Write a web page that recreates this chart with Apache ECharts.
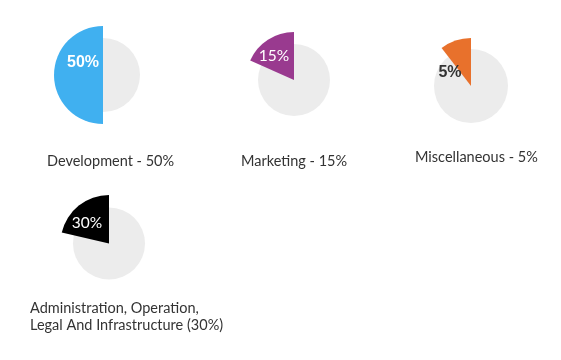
<!DOCTYPE html>
<html>
<head>
<meta charset="utf-8">
<script src="https://cdn.jsdelivr.net/npm/echarts@6/dist/echarts.min.js"></script>
<style>html,body{margin:0;padding:0;background:#fff;}#c{width:561px;height:360px;}</style>
</head>
<body>
<div id="c"></div>
<script>
// Data
var categories = ['Development - 50%', 'Marketing - 15%', 'Miscellaneous - 5%', 'Administration, Operation,\nLegal And Infrastructure (30%)'];
var labelValues = ['50%', '15%', '5%', '30%'];
// drawn sector share (percent of full circle)
var sectorShare = [50, 18.3, 10.5, 21.4];
var colors = ['#40b0f0', '#993a8f', '#e8712c', '#000000'];

// layout (positions / styles)
var centers = [[103, 75], [294, 80], [471, 86], [109, 243.5]];
var bgRadius = [37, 36, 37, 36];
var fgRadius = [49, 48, 48, 48.5];
var labelCenters = [[83, 63], [274, 56], [450, 72.5], [87, 222.5]];
var labelFonts = [
  {fontFamily: 'Liberation Sans', fontWeight: 'bold', fontSize: 16, color: '#ffffff'},
  {fontFamily: 'Lato', fontWeight: 'normal', fontSize: 15.5, color: '#ffffff'},
  {fontFamily: 'Liberation Sans', fontWeight: 'bold', fontSize: 16, color: '#333333'},
  {fontFamily: 'Lato', fontWeight: 'normal', fontSize: 15.5, color: '#ffffff'}
];
var captionPos = [[47, 153], [241, 153], [415, 149], [30, 300]];

var series = [];
var titles = [];
for (var i = 0; i < categories.length; i++) {
  series.push({
    type: 'pie', silent: true, center: centers[i], radius: [0, bgRadius[i]],
    label: {show: false}, labelLine: {show: false}, emphasis: {disabled: true},
    data: [{value: 1, itemStyle: {color: '#ececec'}}]
  });
  series.push({
    type: 'pie', silent: true, center: centers[i], radius: [0, fgRadius[i]],
    startAngle: 90, clockwise: false, emphasis: {disabled: true},
    label: {show: false}, labelLine: {show: false},
    data: [
      {value: sectorShare[i], name: categories[i], itemStyle: {color: colors[i]}},
      {value: 100 - sectorShare[i], itemStyle: {color: 'transparent'}}
    ]
  });
  titles.push({
    text: categories[i], left: captionPos[i][0], top: captionPos[i][1], padding: 0,
    textStyle: {fontFamily: 'Lato', fontWeight: 'normal', fontSize: 14.5, color: '#333333', lineHeight: 17}
  });
  var f = labelFonts[i];
  titles.push({
    text: labelValues[i], left: labelCenters[i][0], top: labelCenters[i][1], padding: 0,
    textAlign: 'center', textVerticalAlign: 'middle', z: 10,
    textStyle: {fontFamily: f.fontFamily, fontWeight: f.fontWeight, fontSize: f.fontSize, color: f.color}
  });
}

var chart = echarts.init(document.getElementById('c'), null, {renderer: 'canvas'});
chart.setOption({animation: false, backgroundColor: '#ffffff', title: titles, series: series});
</script>
</body>
</html>
